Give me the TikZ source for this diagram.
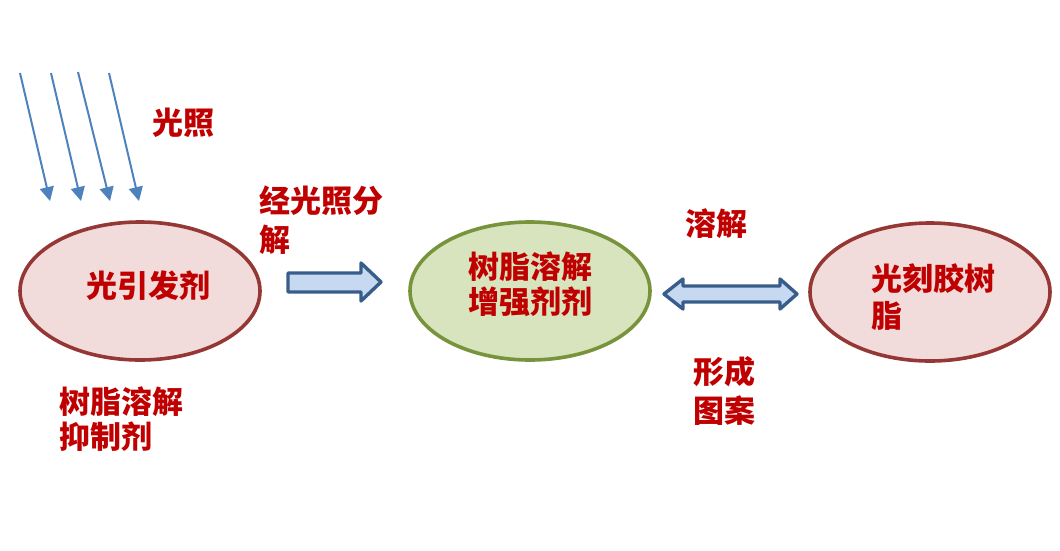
\documentclass[tikz,border=0pt]{standalone}
\usepackage{fontspec}
\newfontfamily\cjk{Noto Sans CJK SC}
\usetikzlibrary{shapes.geometric,arrows.meta}
\definecolor{txtred}{HTML}{C00000}
\definecolor{pinkfill}{HTML}{F2DCDB}
\definecolor{pinkline}{HTML}{953735}
\definecolor{greenfill}{HTML}{D7E4BD}
\definecolor{greenline}{HTML}{77933C}
\definecolor{raycol}{HTML}{4F81BD}
\definecolor{arrfill}{HTML}{C6D9F1}
\definecolor{arrline}{HTML}{385D8A}
\tikzset{
  lbl/.style={anchor=north west, inner sep=0pt, align=left, text=txtred,
    font=\cjk\bfseries\fontsize{31}{37}\selectfont},
  pinkell/.style={ellipse, draw=pinkline, fill=pinkfill, line width=3.6pt,
    minimum width=240pt, minimum height=138pt, inner sep=0pt},
  greenell/.style={ellipse, draw=greenline, fill=greenfill, line width=3.6pt,
    minimum width=240pt, minimum height=138pt, inner sep=0pt},
  ray/.style={draw=raycol, line width=2pt, -{Triangle[length=14pt,width=14pt]}},
  fatarrow/.style={draw=arrline, fill=arrfill, line width=3.4pt, line join=round},
}
\begin{document}
\begin{tikzpicture}[x=1pt,y=-1pt]
\useasboundingbox (0,0) rectangle (1060,550);
% ellipses
\node[pinkell] (pi) at (140,291) {};
\node[greenell] (rd) at (530,291) {};
\node[pinkell] (pr) at (930,292) {};
% rays
\coordinate (r1s) at (20,73);  \coordinate (r1e) at (50,201);
\coordinate (r2s) at (51,73);  \coordinate (r2e) at (81,201);
\coordinate (r3s) at (78,72);  \coordinate (r3e) at (110,201);
\coordinate (r4s) at (109,73); \coordinate (r4e) at (139,201);
\draw[ray] (r1s) -- (r1e);
\draw[ray] (r2s) -- (r2e);
\draw[ray] (r3s) -- (r3e);
\draw[ray] (r4s) -- (r4e);
% fat arrows
\draw[fatarrow] (288,273) -- (361,273) -- (361,263) -- (381,282) -- (361,301) -- (361,292) -- (288,292) -- cycle;
\draw[fatarrow] (664,294) -- (683,279) -- (683,286) -- (780,286) -- (780,279) -- (797,294) -- (780,309) -- (780,302) -- (683,302) -- (683,309) -- cycle;
% labels
\node[lbl] (tlight) at (152,108) {光照};
\node[lbl, font=\cjk\bfseries\fontsize{31}{39}\selectfont] (tdecomp) at (259,186) {经光照分\\解};
\node[lbl] (tpi) at (86,271) {光引发剂};
\node[lbl, font=\cjk\bfseries\fontsize{31}{35}\selectfont] (tinhib) at (59,386) {树脂溶解\\抑制剂};
\node[lbl, font=\cjk\bfseries\fontsize{31}{35}\selectfont] (tenh) at (468,251) {树脂溶解\\增强剂剂};
\node[lbl] (tdiss) at (685,208) {溶解};
\node[lbl, font=\cjk\bfseries\fontsize{31}{39}\selectfont] (tpat) at (693,356) {形成\\图案};
\node[lbl] (tres) at (871,263) {光刻胶树\\脂};
\end{tikzpicture}
\end{document}
